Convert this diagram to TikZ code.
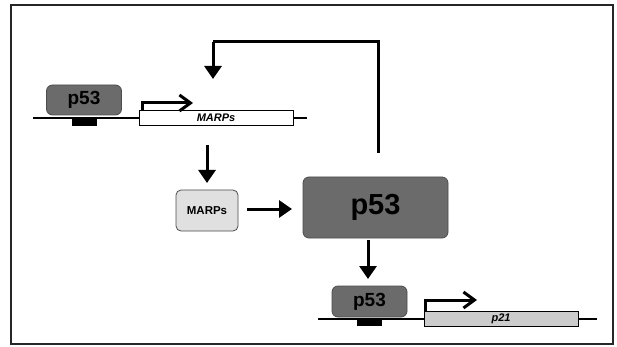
\documentclass[tikz,border=0pt]{standalone}
\usepackage{fontspec}
\setmainfont{Liberation Sans}
\usetikzlibrary{arrows.meta}
\definecolor{pgray}{gray}{0.42}
\definecolor{pedge}{gray}{0.3}
\definecolor{lgray}{gray}{0.88}
\definecolor{ggray}{gray}{0.8}
\begin{document}
\begin{tikzpicture}[x=1pt,y=-1pt,
  prot/.style={draw=pedge,fill=pgray,rounded corners=6pt,line width=0.8pt,inner sep=0pt,font=\bfseries},
  gene/.style={draw=black,line width=0.6pt,inner sep=0pt,font=\bfseries\itshape\fontsize{11}{12}\selectfont},
  dna/.style={line width=2.8pt},
  site/.style={fill=black,draw=none},
  flow/.style={line width=3pt,-{Triangle[length=13pt,width=17pt]}},
  prom/.style={line width=3pt,-{Straight Barb[length=11pt,width=16pt,line width=3pt]}}]
\useasboundingbox (0,0) rectangle (617,347);
\draw[line width=1.6pt,draw=black!85] (11,5) rectangle (613,344);
% top gene
\coordinate (d1a) at (33,118);
\coordinate (d1b) at (307,118);
\draw[dna] (d1a) -- (d1b);
\fill[site] (72,118) rectangle (97,126);
\node[prot,minimum width=75pt,minimum height=30pt,font=\bfseries\fontsize{19}{20}\selectfont] (p1) at (84,100) {p53};
\node[gene,fill=white,minimum width=154pt,minimum height=15pt] (g1) at (216,118) {MARPs};
\coordinate (pr1) at (142,110);
\coordinate (pr1t) at (193,103);
\draw[prom] (pr1) |- (pr1t);
% feedback
\node[prot,minimum width=145pt,minimum height=61pt,font=\bfseries\fontsize{29}{30}\selectfont] (p2) at (375.5,207.5) {p53};
\coordinate (fbtop) at (378,42);
\coordinate (fbcorner) at (213,42);
\coordinate (fbend) at (213,79);
\coordinate (fbstart) at (378,153);
\draw[line width=3pt] (fbstart) -- (fbtop) -- (fbcorner);
\draw[flow] (fbcorner) -- (fbend);
% MARPs protein
\node[draw=black!70,fill=lgray,rounded corners=5pt,line width=0.8pt,minimum width=62pt,minimum height=41pt,inner sep=0pt,font=\bfseries\fontsize{11.5}{12}\selectfont] (m) at (207,210.5) {MARPs};
\coordinate (a1s) at (207,145);
\coordinate (a1e) at (207,183);
\draw[flow] (a1s) -- (a1e);
\coordinate (a2s) at (247,209);
\coordinate (a2e) at (292,209);
\draw[flow] (a2s) -- (a2e);
% bottom gene
\coordinate (d2a) at (318,319);
\coordinate (d2b) at (597,319);
\draw[dna] (d2a) -- (d2b);
\fill[site] (357,319) rectangle (382,326);
\node[prot,minimum width=75pt,minimum height=31pt,font=\bfseries\fontsize{19}{20}\selectfont] (p3) at (369.5,301.5) {p53};
\node[gene,fill=ggray,minimum width=154pt,minimum height=15pt] (g2) at (501,318.5) {p21};
\coordinate (pr2) at (425,311);
\coordinate (pr2t) at (477,300);
\draw[prom] (pr2) |- (pr2t);
\coordinate (a3s) at (368,240);
\coordinate (a3e) at (368,279);
\draw[flow] (a3s) -- (a3e);
\end{tikzpicture}
\end{document}
